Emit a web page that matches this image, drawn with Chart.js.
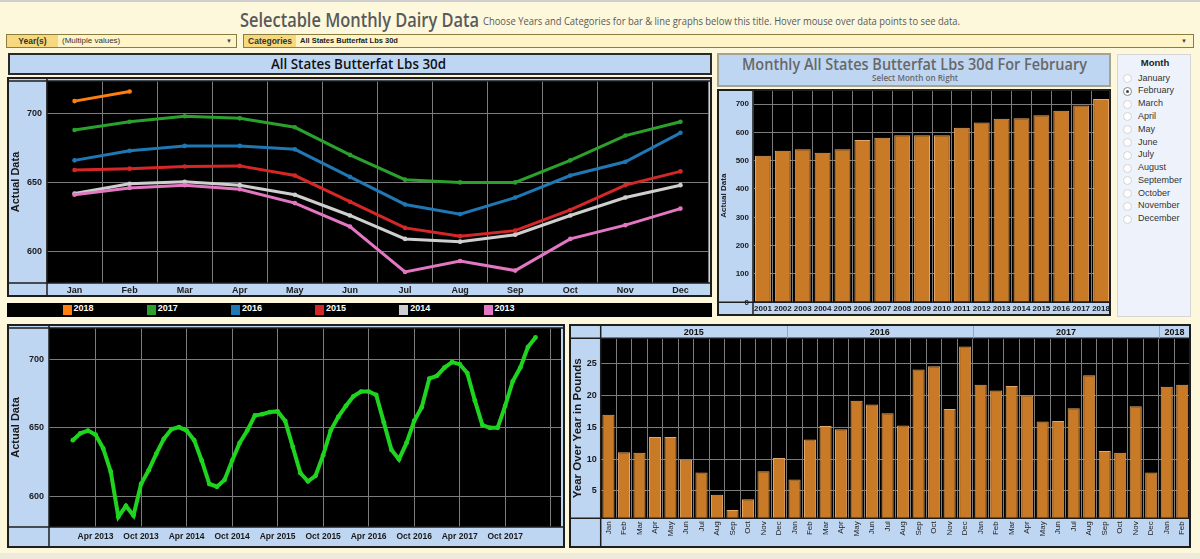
<!DOCTYPE html>
<html><head><meta charset="utf-8"><title>Selectable Monthly Dairy Data</title>
<script src="https://cdn.jsdelivr.net/npm/chart.js@4.4.1/dist/chart.umd.min.js"></script>
<style>
html,body{margin:0;padding:0}
body{width:1200px;height:559px;background:#fdf8dc;overflow:hidden;position:relative;font-family:"Liberation Sans",Arial,sans-serif;color:#333}
.a{position:absolute;box-sizing:border-box}
.fit{position:absolute;white-space:nowrap;transform-origin:0 50%}
canvas{display:block;position:absolute}
.radio{position:absolute;left:5px;top:1.5px;width:9px;height:9px;border-radius:50%;box-sizing:border-box;border:1px solid #d4d4d4;background:#fff}
.radio.on{border-color:#888}
.radio.on::after{content:"";position:absolute;left:2px;top:2px;width:3px;height:3px;border-radius:50%;background:#444}
</style></head><body>
<div class="a" style="left:0;top:0;width:1200px;height:2px;background:#cfcfcf"></div>
<div class="a" style="left:0;top:553px;width:1200px;height:6px;background:#efeada"></div>

<div class="fit" data-w="239" style="left:240px;top:6px;font:600 20px 'Open Sans';color:#5a5a5a">Selectable Monthly Dairy Data</div>
<div class="fit" data-w="477" style="left:483px;top:13px;font:11px 'Open Sans';color:#5a5a5a">Choose Years and Categories for bar &amp; line graphs below this title. Hover mouse over data points to see data.</div>

<!-- filters -->
<div class="a" style="left:6px;top:34px;width:231px;height:14px;background:#fef4c8;border:1px solid #8c7d3e"></div>
<div class="a" style="left:7px;top:35px;width:51px;height:12px;background:#f6d97e"></div>
<div class="a" style="left:7px;top:35px;width:51px;height:12px;font:bold 8.5px 'Liberation Sans';color:#333;text-align:center;line-height:12px">Year(s)</div>
<div class="a" style="left:62px;top:35px;height:12px;font:8px 'Liberation Sans';color:#333;line-height:12px">(Multiple values)</div>
<div class="a" style="left:226px;top:35px;height:12px;font:6px 'Liberation Sans';color:#444;line-height:12px">&#9660;</div>

<div class="a" style="left:243px;top:34px;width:951px;height:14px;background:#fef4c8;border:1px solid #8c7d3e"></div>
<div class="a" style="left:244px;top:35px;width:52px;height:12px;background:#f6d97e"></div>
<div class="a" style="left:244px;top:35px;width:52px;height:12px;font:bold 8.5px 'Liberation Sans';color:#333;text-align:center;line-height:12px">Categories</div>
<div class="a" style="left:300px;top:35px;height:12px;font:bold 7.5px 'Liberation Sans';color:#222;line-height:12px">All States Butterfat Lbs 30d</div>
<div class="a" style="left:1181px;top:35px;height:12px;font:6px 'Liberation Sans';color:#444;line-height:12px">&#9660;</div>

<!-- top-left title -->
<div class="a" style="left:8px;top:53px;width:704px;height:22px;background:#bfd6f3;border:2px solid #2a2a2a"></div>
<div class="fit" data-w="175" style="left:271px;top:53px;font:600 15px 'Open Sans';color:#111">All States Butterfat Lbs 30d</div>
<canvas id="c1" width="705" height="220" style="left:7px;top:77px"></canvas>
<div class="a" id="legend" style="left:7px;top:303px;width:705px;height:14px;background:#000"></div>

<!-- top-right title -->
<div class="a" style="left:717px;top:53px;width:394px;height:34px;background:#bfd6f3;border:2px solid #a4a490"></div>
<div class="fit" data-w="345" style="left:742px;top:52px;font:600 17px 'Open Sans';color:#686868">Monthly All States Butterfat Lbs 30d For February</div>
<div class="fit" data-w="86" style="left:872px;top:71px;font:600 9px 'Open Sans';color:#686868">Select Month on Right</div>
<canvas id="c2" width="394" height="227" style="left:717px;top:89px"></canvas>

<!-- month list -->
<div class="a" id="monthList" style="left:1117px;top:54px;width:74px;height:263px;background:#eef3fb;border:1px solid #d6d6d6">
  <div class="a" style="left:0;top:2px;width:74px;text-align:center;font:bold 9.5px 'Liberation Sans';color:#222">Month</div>
</div>

<canvas id="c3" width="558" height="224" style="left:7px;top:324px"></canvas>
<canvas id="c4" width="622" height="224" style="left:569px;top:324px"></canvas>

<script>
// ---------------- data ----------------
const months = ['Jan','Feb','Mar','Apr','May','Jun','Jul','Aug','Sep','Oct','Nov','Dec'];
const monthNames = ['January','February','March','April','May','June','July','August','September','October','November','December'];
const selectedMonth = 'February';

const lineYears = ['2013','2014','2015','2016','2017','2018'];
const v2013 = [641,646,648,645,635,618,585,593,586,609,619,631];
const v2014 = [642,649,650.5,648,641,626,609,607,612,626,639,648];
const v2015 = [659,660,661.5,662,655,636,617,611,615,630,648,658];
const v2016 = [666,673,676.5,676.5,674,654,634,627,639,655,665,686];
const v2017 = [688,694,698,696.5,690,670,652,650,650,666,684,694];
const v2018 = [709,716];
const lineColors = ['#e377c2','#cfcfcf','#d62728','#1f77b4','#2ca02c','#ff7f0e'];
const lineTicks = [600,650,700];

const barYears = ['2001','2002','2003','2004','2005','2006','2007','2008','2009','2010','2011','2012','2013','2014','2015','2016','2017','2018'];
const febValues = [517,535,540,528,540,573,581,590,590,590,616,635,648,650,660,676,695,718];
const barTicks = [0,100,200,300,400,500,600,700];

const timeTicks = ['Apr 2013','Oct 2013','Apr 2014','Oct 2014','Apr 2015','Oct 2015','Apr 2016','Oct 2016','Apr 2017','Oct 2017','Apr 2018'];

const yoyYears = ['2015','2016','2017','2018'];
const yoy2015 = [17.0,11.1,11.0,13.5,13.5,9.9,7.9,4.4,2.0,3.7,8.1,10.2];
const yoy2016 = [6.8,13.1,15.2,14.7,19.2,18.6,17.2,15.3,24.1,24.6,17.9,27.7];
const yoy2017 = [21.7,20.8,21.5,20.0,15.9,16.0,18.0,23.2,11.3,11.0,18.3,7.9];
const yoy2018 = [21.4,21.7];
const yoyTicks = [5,10,15,20,25];

// ---------------- styling helpers ----------------
const BLUE = '#bfd6f3';
const GRID = '#7c7c7c';
const BAR = '#c97a26';
const BAR_EDGE = '#e3a766';
const TXT = '#1a1a1a';
Chart.defaults.font.family = '"Liberation Sans", Arial, sans-serif';

function noPad(s){ s.paddingTop=0; s.paddingBottom=0; s.paddingLeft=0; s.paddingRight=0; }

const panelPlugin = {
  id:'panel',
  beforeDraw(chart){
    const {ctx, chartArea:a, width, height} = chart;
    ctx.save();
    ctx.fillStyle = BLUE; ctx.fillRect(0,0,width,height);
    ctx.fillStyle = '#000'; ctx.fillRect(a.left, a.top, a.right-a.left, a.bottom-a.top);
    ctx.restore();
  },
  afterDraw(chart){
    const {ctx, chartArea:a, width, height} = chart;
    ctx.save();
    ctx.strokeStyle = '#1e1e1e'; ctx.lineWidth = 1.5;
    ctx.beginPath();
    ctx.moveTo(a.left, 0); ctx.lineTo(a.left, height);
    ctx.moveTo(0, a.bottom); ctx.lineTo(width, a.bottom);
    if (a.top > 3) { ctx.moveTo(0, a.top); ctx.lineTo(width, a.top); }
    ctx.stroke();
    ctx.lineWidth = 2;
    ctx.strokeRect(1,1,width-2,height-2);
    ctx.restore();
  }
};

// ---------------- chart 1: monthly lines by year ----------------
const lineSeries = [v2013,v2014,v2015,v2016,v2017,v2018];
new Chart(document.getElementById('c1'), {
  type:'line',
  data:{labels:months, datasets: lineYears.map((y,i)=>({
    label:y, data:lineSeries[i], borderColor:lineColors[i], backgroundColor:lineColors[i],
    pointBackgroundColor:lineColors[i], borderWidth:3, pointRadius:2.3, pointBorderWidth:0, tension:0
  }))},
  options:{
    responsive:false, animation:false,
    layout:{padding:{top:1,right:2,left:0,bottom:0}},
    plugins:{legend:{display:false}},
    scales:{
      x:{offset:true, grid:{offset:true,color:GRID,drawTicks:false}, border:{display:false},
         ticks:{color:TXT,font:{size:9,weight:'bold'},padding:2,maxRotation:0,autoSkip:false},
         afterFit(s){ s.height=14; noPad(s); }},
      y:{min:577,max:723.6, grid:{color:GRID,drawTicks:false}, border:{display:false},
         afterBuildTicks(s){ s.ticks = lineTicks.map(v=>({value:v})); },
         ticks:{color:TXT,font:{size:9,weight:'bold'},padding:5},
         title:{display:true,text:'Actual Data',color:TXT,font:{size:11,weight:'bold'},padding:{top:2,bottom:0}},
         afterFit(s){ s.width=40; noPad(s); }}
    }
  },
  plugins:[panelPlugin]
});

// legend strip
const lg = document.getElementById('legend');
lineYears.slice().reverse().forEach((y,i)=>{
  const col = lineColors[lineYears.length-1-i];
  const it = document.createElement('div');
  it.className='a';
  it.style.cssText = `left:${55.5+i*84.2}px;top:0;height:14px;`;
  it.innerHTML = `<span class="a" style="left:0;top:2px;width:9px;height:10px;background:${col}"></span>`+
    `<span class="a" style="left:11px;top:0;line-height:14px;font:bold 9px 'Liberation Sans';color:#fff">${y}</span>`;
  lg.appendChild(it);
});

// ---------------- chart 2: February by year ----------------
new Chart(document.getElementById('c2'), {
  type:'bar',
  data:{labels:barYears, datasets:[{label:'February', data:febValues, backgroundColor:BAR, borderColor:BAR_EDGE,
    borderWidth:1, barPercentage:0.8, categoryPercentage:1}]},
  options:{
    responsive:false, animation:false,
    layout:{padding:{top:0,right:0,left:0,bottom:0}},
    plugins:{legend:{display:false}},
    scales:{
      x:{grid:{offset:true,color:GRID,drawTicks:false}, border:{display:false},
         ticks:{color:TXT,font:{size:8,weight:'bold'},padding:2,maxRotation:0,autoSkip:false},
         afterFit(s){ s.height=13.7; noPad(s); }},
      y:{min:0,max:753, grid:{color:GRID,drawTicks:false}, border:{display:false},
         afterBuildTicks(s){ s.ticks = barTicks.map(v=>({value:v})); },
         ticks:{color:TXT,font:{size:8,weight:'bold'},padding:4},
         title:{display:true,text:'Actual Data',color:TXT,font:{size:8,weight:'bold'},padding:{top:2,bottom:0}},
         afterFit(s){ s.width=36; noPad(s); }}
    }
  },
  plugins:[panelPlugin]
});

// month list
const ml = document.getElementById('monthList');
monthNames.forEach((m,i)=>{
  const d = document.createElement('div');
  d.className='a';
  d.style.cssText = `left:0;top:${17.7+i*12.76}px;width:74px;height:12px;`;
  d.innerHTML = `<span class="radio ${m===selectedMonth?'on':''}"></span>`+
    `<span class="a" style="left:20px;top:0;line-height:12px;font:9px 'Liberation Sans';color:#333">${m}</span>`;
  ml.appendChild(d);
});

// ---------------- chart 3: continuous time series ----------------
const allValues = [].concat(v2013,v2014,v2015,v2016,v2017,v2018);
const timePoints = allValues.map((v,i)=>({x:i, y:v}));
const firstYear = +lineYears[0];
function labelIndex(lbl){ const [m,y] = lbl.split(' '); return (+y-firstYear)*12 + months.indexOf(m); }
const tickIdx = timeTicks.map(labelIndex);
new Chart(document.getElementById('c3'), {
  type:'line',
  data:{datasets:[{label:'Actual Data', data:timePoints, borderColor:'#1fd41f', backgroundColor:'#1fd41f',
    pointBackgroundColor:'#1fd41f', borderWidth:4, pointRadius:2.4, pointBorderWidth:0, tension:0}]},
  options:{
    responsive:false, animation:false,
    layout:{padding:{top:1,right:2.3,left:0,bottom:0}},
    plugins:{legend:{display:false}},
    scales:{
      x:{type:'linear', min:-3.14, max:64.36, grid:{color:GRID,drawTicks:false}, border:{display:false},
         afterBuildTicks(s){ s.ticks = tickIdx.map(v=>({value:v})); },
         ticks:{color:TXT,font:{size:8.5,weight:'bold'},padding:5,maxRotation:0,autoSkip:false,
           callback(v){ const k = tickIdx.indexOf(v); return v > allValues.length-1 ? '' : timeTicks[k]; }},
         afterFit(s){ s.height=21; noPad(s); }},
      y:{min:577.6,max:722.9, grid:{color:GRID,drawTicks:false}, border:{display:false},
         afterBuildTicks(s){ s.ticks = lineTicks.map(v=>({value:v})); },
         ticks:{color:TXT,font:{size:9,weight:'bold'},padding:5},
         title:{display:true,text:'Actual Data',color:TXT,font:{size:11,weight:'bold'},padding:{top:2,bottom:0}},
         afterFit(s){ s.width=42; noPad(s); }}
    }
  },
  plugins:[panelPlugin]
});

// ---------------- chart 4: year over year ----------------
const yoyGroups = [yoy2015,yoy2016,yoy2017,yoy2018];
const yoyValues = [].concat(...yoyGroups);
const yoyLabels = [].concat(...yoyGroups.map(g=>months.slice(0,g.length)));
const yearHeader = {
  id:'yearHeader',
  afterDraw(chart){
    const {ctx, chartArea:a} = chart;
    const xs = chart.scales.x;
    const hw = (xs.getPixelForValue(1) - xs.getPixelForValue(0)) / 2;
    let start = 0;
    ctx.save();
    ctx.font = 'bold 9px "Liberation Sans"';
    ctx.fillStyle = '#111'; ctx.textAlign='center'; ctx.textBaseline='middle';
    ctx.strokeStyle = '#8fa6c4'; ctx.lineWidth = 1;
    yoyGroups.forEach((g,gi)=>{
      const x0 = xs.getPixelForValue(start) - hw;
      const x1 = xs.getPixelForValue(start+g.length-1) + hw;
      ctx.fillText(yoyYears[gi], (x0+x1)/2, a.top/2 + 1);
      if (gi < yoyGroups.length-1) {
        ctx.beginPath(); ctx.moveTo(Math.round(x1)+0.5, 2); ctx.lineTo(Math.round(x1)+0.5, a.top); ctx.stroke();
      }
      start += g.length;
    });
    ctx.restore();
  }
};
new Chart(document.getElementById('c4'), {
  type:'bar',
  data:{labels:yoyLabels, datasets:[{label:'Year Over Year in Pounds', data:yoyValues, backgroundColor:BAR,
    borderColor:BAR_EDGE, borderWidth:1, barPercentage:0.78, categoryPercentage:1}]},
  options:{
    responsive:false, animation:false,
    layout:{padding:{top:14.3,right:1,left:0,bottom:0}},
    plugins:{legend:{display:false}},
    scales:{
      x:{grid:{offset:true,color:GRID,drawTicks:false}, border:{display:false},
         ticks:{color:'#222',font:{size:8},padding:3,minRotation:90,maxRotation:90,autoSkip:false},
         afterFit(s){ s.height=29.7; noPad(s); }},
      y:{min:0.7,max:29.0, grid:{color:GRID,drawTicks:false}, border:{display:false},
         afterBuildTicks(s){ s.ticks = yoyTicks.map(v=>({value:v})); },
         ticks:{color:TXT,font:{size:9,weight:'bold'},padding:4},
         title:{display:true,text:'Year Over Year in Pounds',color:TXT,font:{size:11.5,weight:'bold'},padding:{top:2,bottom:0}},
         afterFit(s){ s.width=31.7; noPad(s); }}
    }
  },
  plugins:[panelPlugin, yearHeader]
});

// fit narrow title text to the measured widths
document.querySelectorAll('.fit').forEach(el=>{
  const w = el.getBoundingClientRect().width;
  const t = +el.dataset.w;
  if (w > 0) el.style.transform = `scaleX(${t/w})`;
});
</script>
</body></html>
